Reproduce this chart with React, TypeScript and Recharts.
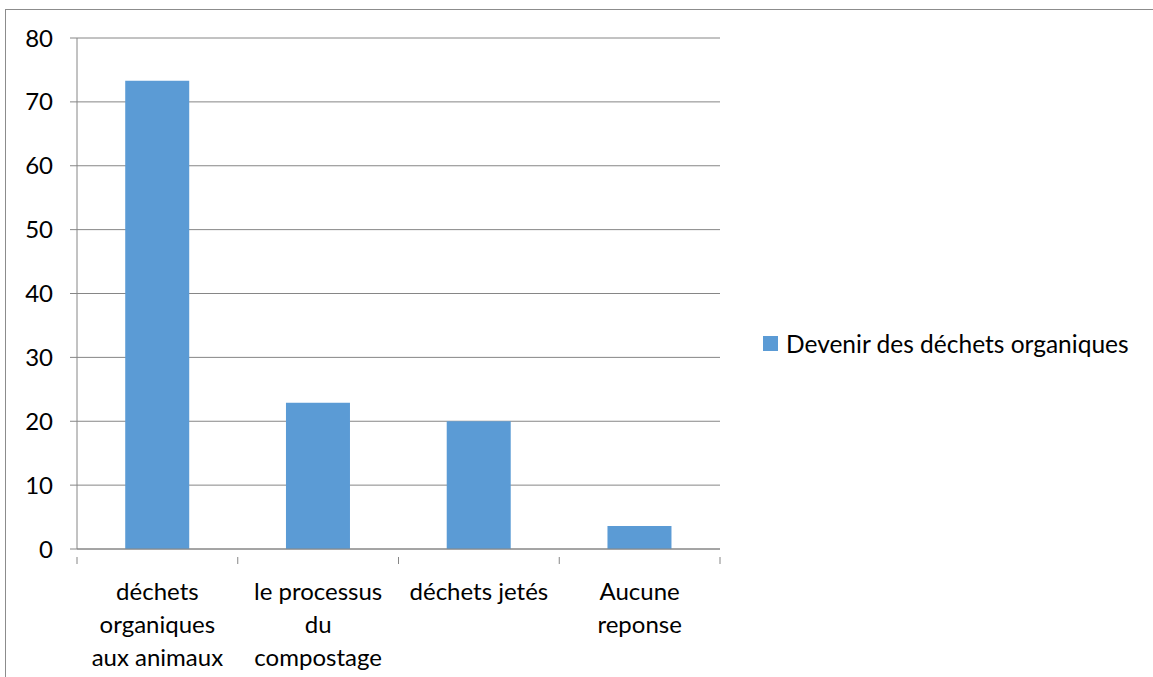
import { BarChart, Bar, XAxis, YAxis, CartesianGrid, Legend } from 'recharts';

const categories = ['déchets organiques aux animaux', 'le processus du compostage', 'déchets jetés', 'Aucune reponse'];
const tickLines = [['déchets', 'organiques', 'aux animaux'], ['le processus', 'du', 'compostage'], ['déchets jetés'], ['Aucune', 'reponse']];
const values = [73.3, 22.9, 20, 3.6];
const yTicks = [0, 10, 20, 30, 40, 50, 60, 70, 80];
const seriesName = 'Devenir des déchets organiques';

const data = categories.map((c, i) => ({ name: c, value: values[i] }));

const FONT = 'Lato, "Open Sans", sans-serif';
const AXIS = '#868686';
const PLOT_LEFT = 77;
const PLOT_RIGHT = 720;
const BAND = (PLOT_RIGHT - PLOT_LEFT) / categories.length;

const XTick = ({ x, y, index }: any) => {
  const lines = tickLines[index] || [];
  return (
    <g>
      <line x1={x - BAND / 2} y1={y} x2={x - BAND / 2} y2={y + 7} stroke={AXIS} />
      {index === categories.length - 1 && (
        <line x1={x + BAND / 2} y1={y} x2={x + BAND / 2} y2={y + 7} stroke={AXIS} />
      )}
      {lines.map((t, i) => (
        <text key={i} x={x} y={y + 43 + i * 33} textAnchor="middle" fill="#000" fontSize={24} fontFamily={FONT}>
          {t}
        </text>
      ))}
    </g>
  );
};

const LegendContent = () => (
  <div style={{ display: 'flex', alignItems: 'center', fontFamily: FONT, fontSize: 24.5, color: '#000' }}>
    <span style={{ display: 'inline-block', width: 15, height: 15, background: '#5b9bd5', marginRight: 8 }} />
    <span>{seriesName}</span>
  </div>
);

export default function App() {
  return (
    <div style={{ position: 'fixed', left: 0, top: 0, width: 1153, height: 677, overflow: 'hidden', background: '#fff' }}>
      <div style={{ position: 'absolute', left: 5, top: 9, width: 1200, height: 700, border: '1px solid #8c8c8c' }} />
      <div style={{ position: 'absolute', left: 0, top: 0 }}>
        <BarChart
          width={1153}
          height={677}
          data={data}
          margin={{ top: 38, right: 1153 - PLOT_RIGHT, bottom: 0, left: 0 }}
          barCategoryGap="30%"
        >
          <CartesianGrid vertical={false} stroke={AXIS} strokeWidth={1} />
          <XAxis
            dataKey="name"
            height={128}
            interval={0}
            tickLine={false}
            axisLine={{ stroke: AXIS }}
            tick={<XTick />}
          />
          <YAxis
            width={PLOT_LEFT}
            domain={[0, 80]}
            ticks={yTicks}
            interval={0}
            tickSize={7}
            tickMargin={17}
            tickLine={{ stroke: AXIS }}
            axisLine={{ stroke: AXIS }}
            tick={{ fill: '#000', fontSize: 24, fontFamily: FONT }}
          />
          <Legend
            layout="horizontal"
            verticalAlign="middle"
            align="center"
            content={<LegendContent />}
            wrapperStyle={{ left: 763, top: 329, width: 390 }}
          />
          <Bar dataKey="value" name={seriesName} fill="#5b9bd5" isAnimationActive={false} />
        </BarChart>
      </div>
    </div>
  );
}
